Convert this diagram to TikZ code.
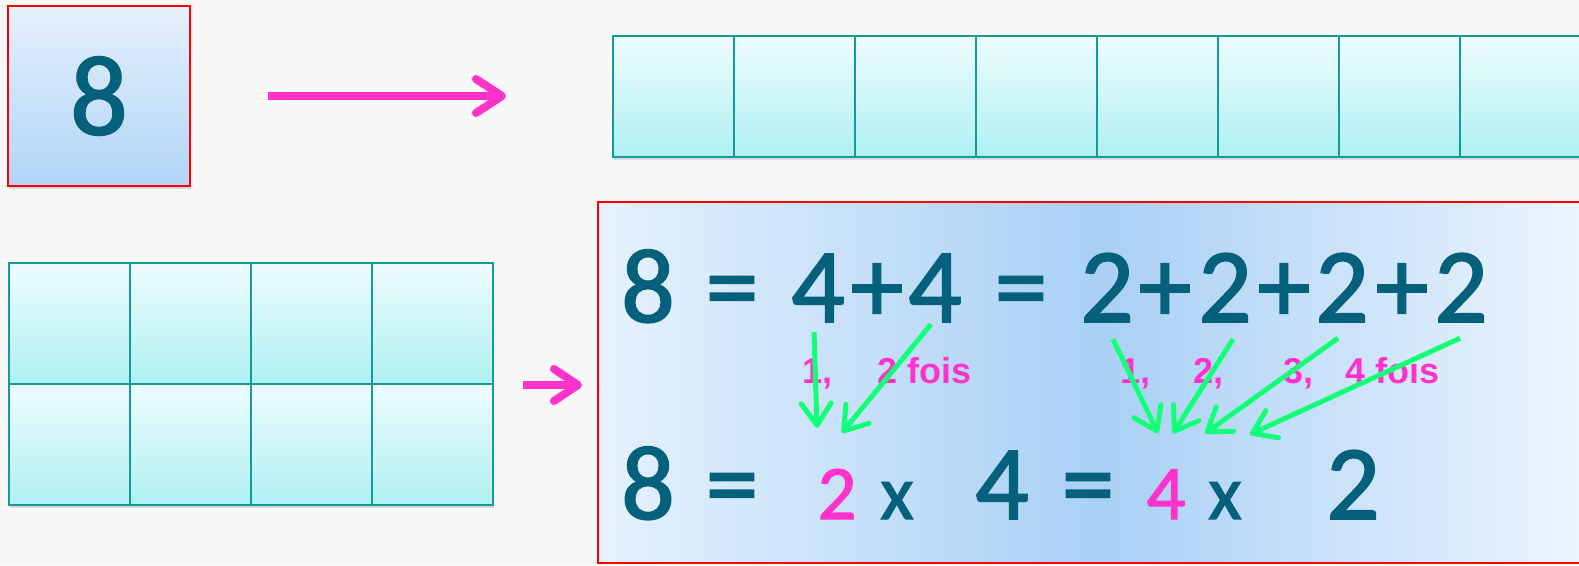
\documentclass[tikz,border=0pt]{standalone}
\usepackage{fontspec}
\setmainfont{Carlito}
\newfontfamily\numfont{Carlito}[FakeBold=1.6]
\newfontfamily\labelfont{Liberation Sans}
\usetikzlibrary{arrows.meta,shadows}
\definecolor{numcol}{HTML}{05607B}
\definecolor{pinkcol}{HTML}{FF33CC}
\definecolor{greencol}{HTML}{14FF78}
\definecolor{cellline}{HTML}{159A9C}
\definecolor{celltop}{HTML}{EEFCFD}
\definecolor{cellbot}{HTML}{AEF0F2}
\definecolor{boxtop}{HTML}{E6F0FC}
\definecolor{boxbot}{HTML}{B0D5F6}
\definecolor{boxleft}{HTML}{E6F2FD}
\definecolor{boxmid}{HTML}{A9D0F5}
\definecolor{boxright}{HTML}{F0F6FE}
\definecolor{bgcol}{HTML}{F7F7F7}
\begin{document}
\begin{tikzpicture}[
	x=1pt, y=-1pt,
	cell/.style={ draw=cellline, line width=2pt, top color=celltop, bottom color=cellbot, minimum size=121pt, inner sep=0pt, drop shadow={shadow xshift=1pt, shadow yshift=-3pt, opacity=0.25} },
	numbox/.style={ draw=red, line width=2pt, top color=boxtop, bottom color=boxbot, minimum width=182pt, minimum height=180pt, inner sep=0pt, text=numcol, font=\numfont\fontsize{114}{114}\selectfont, drop shadow={shadow xshift=1pt, shadow yshift=-3pt, opacity=0.25} },
	resbox/.style={ draw=red, line width=2pt, left color=boxleft, right color=boxright, middle color=boxmid, minimum width=1004pt, minimum height=361pt, inner sep=0pt },
	bignum/.style={ text=numcol, font=\numfont\fontsize{106}{106}\selectfont, inner sep=0pt, anchor=base },
	pinknum/.style={ text=pinkcol, font=\numfont\fontsize{77}{77}\selectfont, inner sep=0pt, anchor=base },
	smallnum/.style={ text=numcol, font=\numfont\fontsize{77}{77}\selectfont, inner sep=0pt, anchor=base },
	countlabel/.style={ text=pinkcol, font=\labelfont\bfseries\fontsize{36}{36}\selectfont, inner sep=0pt, anchor=base west },
	bigarrow/.style={ draw=pinkcol, line width=8pt, -{Straight Barb[length=26pt, width=34pt, round]} },
	greenarrow/.style={ draw=greencol, line width=5pt, -{Straight Barb[length=22pt, width=30pt, round]} }
]

\useasboundingbox (0,0) rectangle (1579,565);
\fill[bgcol] (0,0) rectangle (1579,565);

\node at (99,96) (eight) [numbox] {8};
\foreach \i in {0,...,7} \node at (673.5+121*\i,96.5) (row\i) [cell] {};
\draw[bigarrow, shorten <=77pt, shorten >=106pt] (eight.east) -- (eight.east -| row0.west);

\foreach \r in {0,1} \foreach \c in {0,...,3} \node at (69.5+121*\c,323.5+121*\r) (grid\r\c) [cell] {};

\node at (1100,382.5) (sumbox) [resbox] {};
\draw[bigarrow, -{Straight Barb[length=24pt, width=32pt, round]}, shorten <=29pt, shorten >=15pt] (grid03.south east) -- (grid03.south east -| sumbox.west);

\foreach \x/\t [count=\k] in {648/8, 732/=, 818/4, 877/+, 935/4, 1021/=, 1107/2, 1165/+, 1225/2, 1284/+, 1342/2, 1402/+, 1461/2}
	\node at (\x,322) (sum\k) [bignum] {\t};

\foreach \x/\t/\s [count=\k] in {648/8/bignum, 732/=/bignum, 837/2/pinknum, 897/x/smallnum, 1002/4/bignum, 1088/=/bignum, 1166/4/pinknum, 1225/x/smallnum, 1353/2/bignum}
	\node at (\x,519) (prod\k) [\s] {\t};

\node at (802,383) (cntA) [countlabel] {1,};
\node at (877,383) (cntB) [countlabel] {2 fois};
\node at (1120,383) (cntC) [countlabel] {1,};
\node at (1193,383) (cntD) [countlabel] {2,};
\node at (1283,383) (cntE) [countlabel] {3,};
\node at (1345,383) (cntF) [countlabel] {4 fois};

\foreach \s/\sx/\sy/\t/\tx/\ty in {3/-4/-10/prod3/-20/41, 5/-4/-2/prod3/5/36, 7/6/-17/prod7/-8/36, 9/8/-17/prod7/7/36, 11/-4/-16/prod7/39/36, 13/-1/-16/prod7/84/35}
	\draw[greenarrow] ([xshift=\sx pt, yshift=\sy pt]sum\s.south) -- ([xshift=\tx pt, yshift=\ty pt]\t.north);

\end{tikzpicture}
\end{document}
